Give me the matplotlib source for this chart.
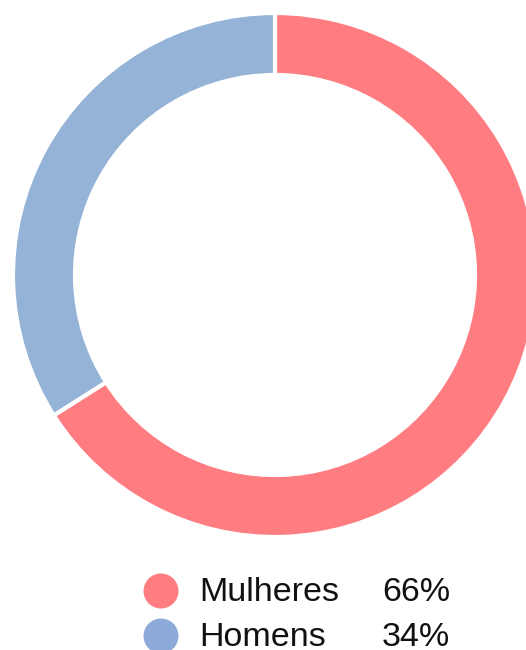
import matplotlib
matplotlib.use("Agg")
import matplotlib.pyplot as plt
from matplotlib.patches import Circle

categories = ["Mulheres", "Homens"]
values = [66, 34]
labels_pct = ["66%", "34%"]
colors = ["#FF7C80", "#95B3D7"]
legend_colors = ["#FF7C80", "#8EAADB"]

W, H = 526, 650
fig = plt.figure(figsize=(W / 100, H / 100), dpi=100)
ax = fig.add_axes([0, 0, 1, 1])

cx, cy = 275, H - 275
R = 262
width = 62

ax.pie(values, colors=colors, startangle=90, counterclock=False,
       center=(cx, cy), radius=R,
       wedgeprops=dict(width=width, edgecolor="white", linewidth=3))
ax.set_xlim(0, W)
ax.set_ylim(0, H)
ax.set_aspect("auto")
ax.axis("off")

font = dict(family=["Liberation Sans", "DejaVu Sans"], fontsize=24.5, color="#111111")
rows_y = [H - 591, H - 636]
for i, (cat, pct, col) in enumerate(zip(categories, labels_pct, legend_colors)):
    y = rows_y[i]
    ax.add_patch(Circle((161, y), 17.5, color=col, lw=0))
    ax.text(199, y - 10, cat, ha="left", va="baseline", **font)
    ax.text(382, y - 10, pct, ha="left", va="baseline", **font)

fig.savefig("out.png", dpi=100)
